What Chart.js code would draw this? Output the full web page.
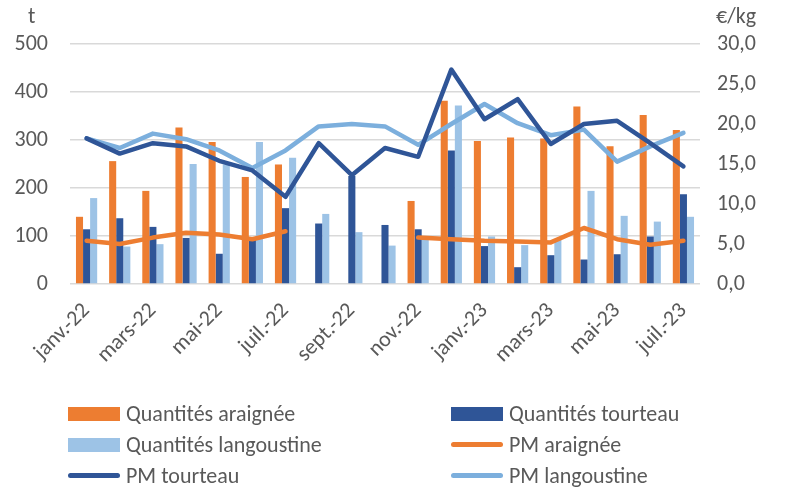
<!DOCTYPE html>
<html>
<head>
<meta charset="utf-8">
<script src="https://cdn.jsdelivr.net/npm/chart.js@4"></script>
<style>
    body { margin: 0; background: #fff; }
    #wrap { position: relative; width: 786px; height: 490px; font-family: Carlito, Lato, sans-serif; color: #595959; }
    #chart { position: absolute; left: 0; top: 0; }
    .unit { position: absolute; font-size: 22px; }
    #legend { position: absolute; left: 68px; top: 402px; width: 718px; display: grid; grid-template-columns: 383px 335px; row-gap: 8px; }
    .item { display: flex; align-items: center; font-size: 22px; height: 23px; white-space: nowrap; }
    .mark { width: 52px; margin-right: 6px; flex: none; }
    .mark.box { height: 14px; }
    .mark.line { height: 5px; border-radius: 3px; }
</style>
</head>
<body>
<div id="wrap">
    <canvas id="chart" width="786" height="490"></canvas>
    <div class="unit" style="left:28px; top:2px;">t</div>
    <div class="unit" style="left:716px; top:2px;">€/kg</div>
    <div id="legend"></div>
</div>
<script>
// months jan 2022 -> jul 2023
let months = ['janv.-22', 'févr.-22', 'mars-22', 'avr.-22', 'mai-22', 'juin-22', 'juil.-22', 'août-22', 'sept.-22', 'oct.-22', 'nov.-22', 'déc.-22',
    'janv.-23', 'févr.-23', 'mars-23', 'avr.-23', 'mai-23', 'juin-23', 'juil.-23']

// quantities (t)
let qte_araignee = [140, 256, 194, 326, 296, 223, 249, null, null, null, 173, 382, 298, 305, 303, 370, 287, 352, 321]
let qte_tourteau = [114, 137, 119, 96, 63, 95, 158, 126, 225, 123, 114, 278, 79, 35, 60, 51, 62, 99, 187]
let qte_langoustine = [179, 78, 83, 250, 249, 296, 263, 146, 108, 80, 95, 372, 99, 81, 92, 194, 142, 130, 140]

// average prices (€/kg)
let pm_araignee = [5.4, 5.0, 5.8, 6.4, 6.2, 5.6, 6.6, null, null, null, 5.8, 5.6, 5.4, 5.3, 5.2, 7.0, 5.6, 4.9, 5.4]
let pm_tourteau = [18.2, 16.3, 17.6, 17.2, 15.4, 14.2, 10.9, 17.6, 13.6, 17.0, 15.9, 26.8, 20.6, 23.1, 17.5, 20.0, 20.4, 17.6, 14.7]
let pm_langoustine = [18.2, 17.0, 18.8, 18.1, 16.7, 14.5, 16.7, 19.7, 20.0, 19.7, 17.4, 20.0, 22.5, 20.1, 18.6, 19.3, 15.3, 17.2, 18.9]

let orange = '#ED7D31'
let dark_blue = '#2F5597'
let light_bar = '#9DC3E6'
let light_line = '#7CAFDD'

function bar_set(label, data, color) {
    return { type: 'bar', label: label, data: data, backgroundColor: color, yAxisID: 'y', order: 2,
        categoryPercentage: 0.64, barPercentage: 1.0 }
}

function line_set(label, data, color) {
    return { type: 'line', label: label, data: data, borderColor: color, backgroundColor: color, yAxisID: 'y2', order: 1,
        borderWidth: 4.5, pointRadius: 0, tension: 0, spanGaps: false, borderCapStyle: 'round', borderJoinStyle: 'round' }
}

let datasets = [
    bar_set('Quantités araignée', qte_araignee, orange),
    bar_set('Quantités tourteau', qte_tourteau, dark_blue),
    bar_set('Quantités langoustine', qte_langoustine, light_bar),
    line_set('PM araignée', pm_araignee, orange),
    line_set('PM tourteau', pm_tourteau, dark_blue),
    line_set('PM langoustine', pm_langoustine, light_line),
]

let font = { family: 'Carlito, Lato, sans-serif', size: 22 }
let grid_color = '#D9D9D9'

new Chart(document.querySelector('#chart'), {
    data: { labels: months, datasets: datasets },
    options: {
        responsive: false,
        animation: false,
        layout: { padding: { top: 44, bottom: 110, left: 0, right: 0 } },
        plugins: { legend: { display: false }, tooltip: { enabled: false } },
        scales: {
            x: {
                grid: { display: false },
                border: { display: false },
                ticks: {
                    autoSkip: false, maxRotation: 45, minRotation: 45, color: '#595959', font: font, padding: 6,
                    callback: function (val, i) { return i % 2 == 0 ? months[i] : '' }
                },
                afterFit: function (scale) { scale.height = 96 }
            },
            y: {
                position: 'left', min: 0, max: 500,
                ticks: { stepSize: 100, color: '#595959', font: font, padding: 22 },
                grid: { color: grid_color, lineWidth: 1.5, drawTicks: false },
                border: { display: false },
                afterFit: function (scale) { scale.width = 70 }
            },
            y2: {
                position: 'right', min: 0, max: 30,
                ticks: { stepSize: 5, color: '#595959', font: font, padding: 17,
                    callback: function (v) { return v.toFixed(1).replace('.', ',') } },
                grid: { display: false, drawTicks: false },
                border: { display: false },
                afterFit: function (scale) { scale.width = 86 }
            }
        }
    }
})

// legend in two columns, same order as the datasets
let legend = document.querySelector('#legend')
datasets.forEach(function (ds) {
    let item = document.createElement('div')
    item.className = 'item'
    let mark = document.createElement('span')
    mark.className = 'mark ' + (ds.type == 'bar' ? 'box' : 'line')
    mark.style.background = ds.type == 'bar' ? ds.backgroundColor : ds.borderColor
    item.appendChild(mark)
    item.appendChild(document.createTextNode(ds.label))
    legend.appendChild(item)
})
</script>
</body>
</html>
